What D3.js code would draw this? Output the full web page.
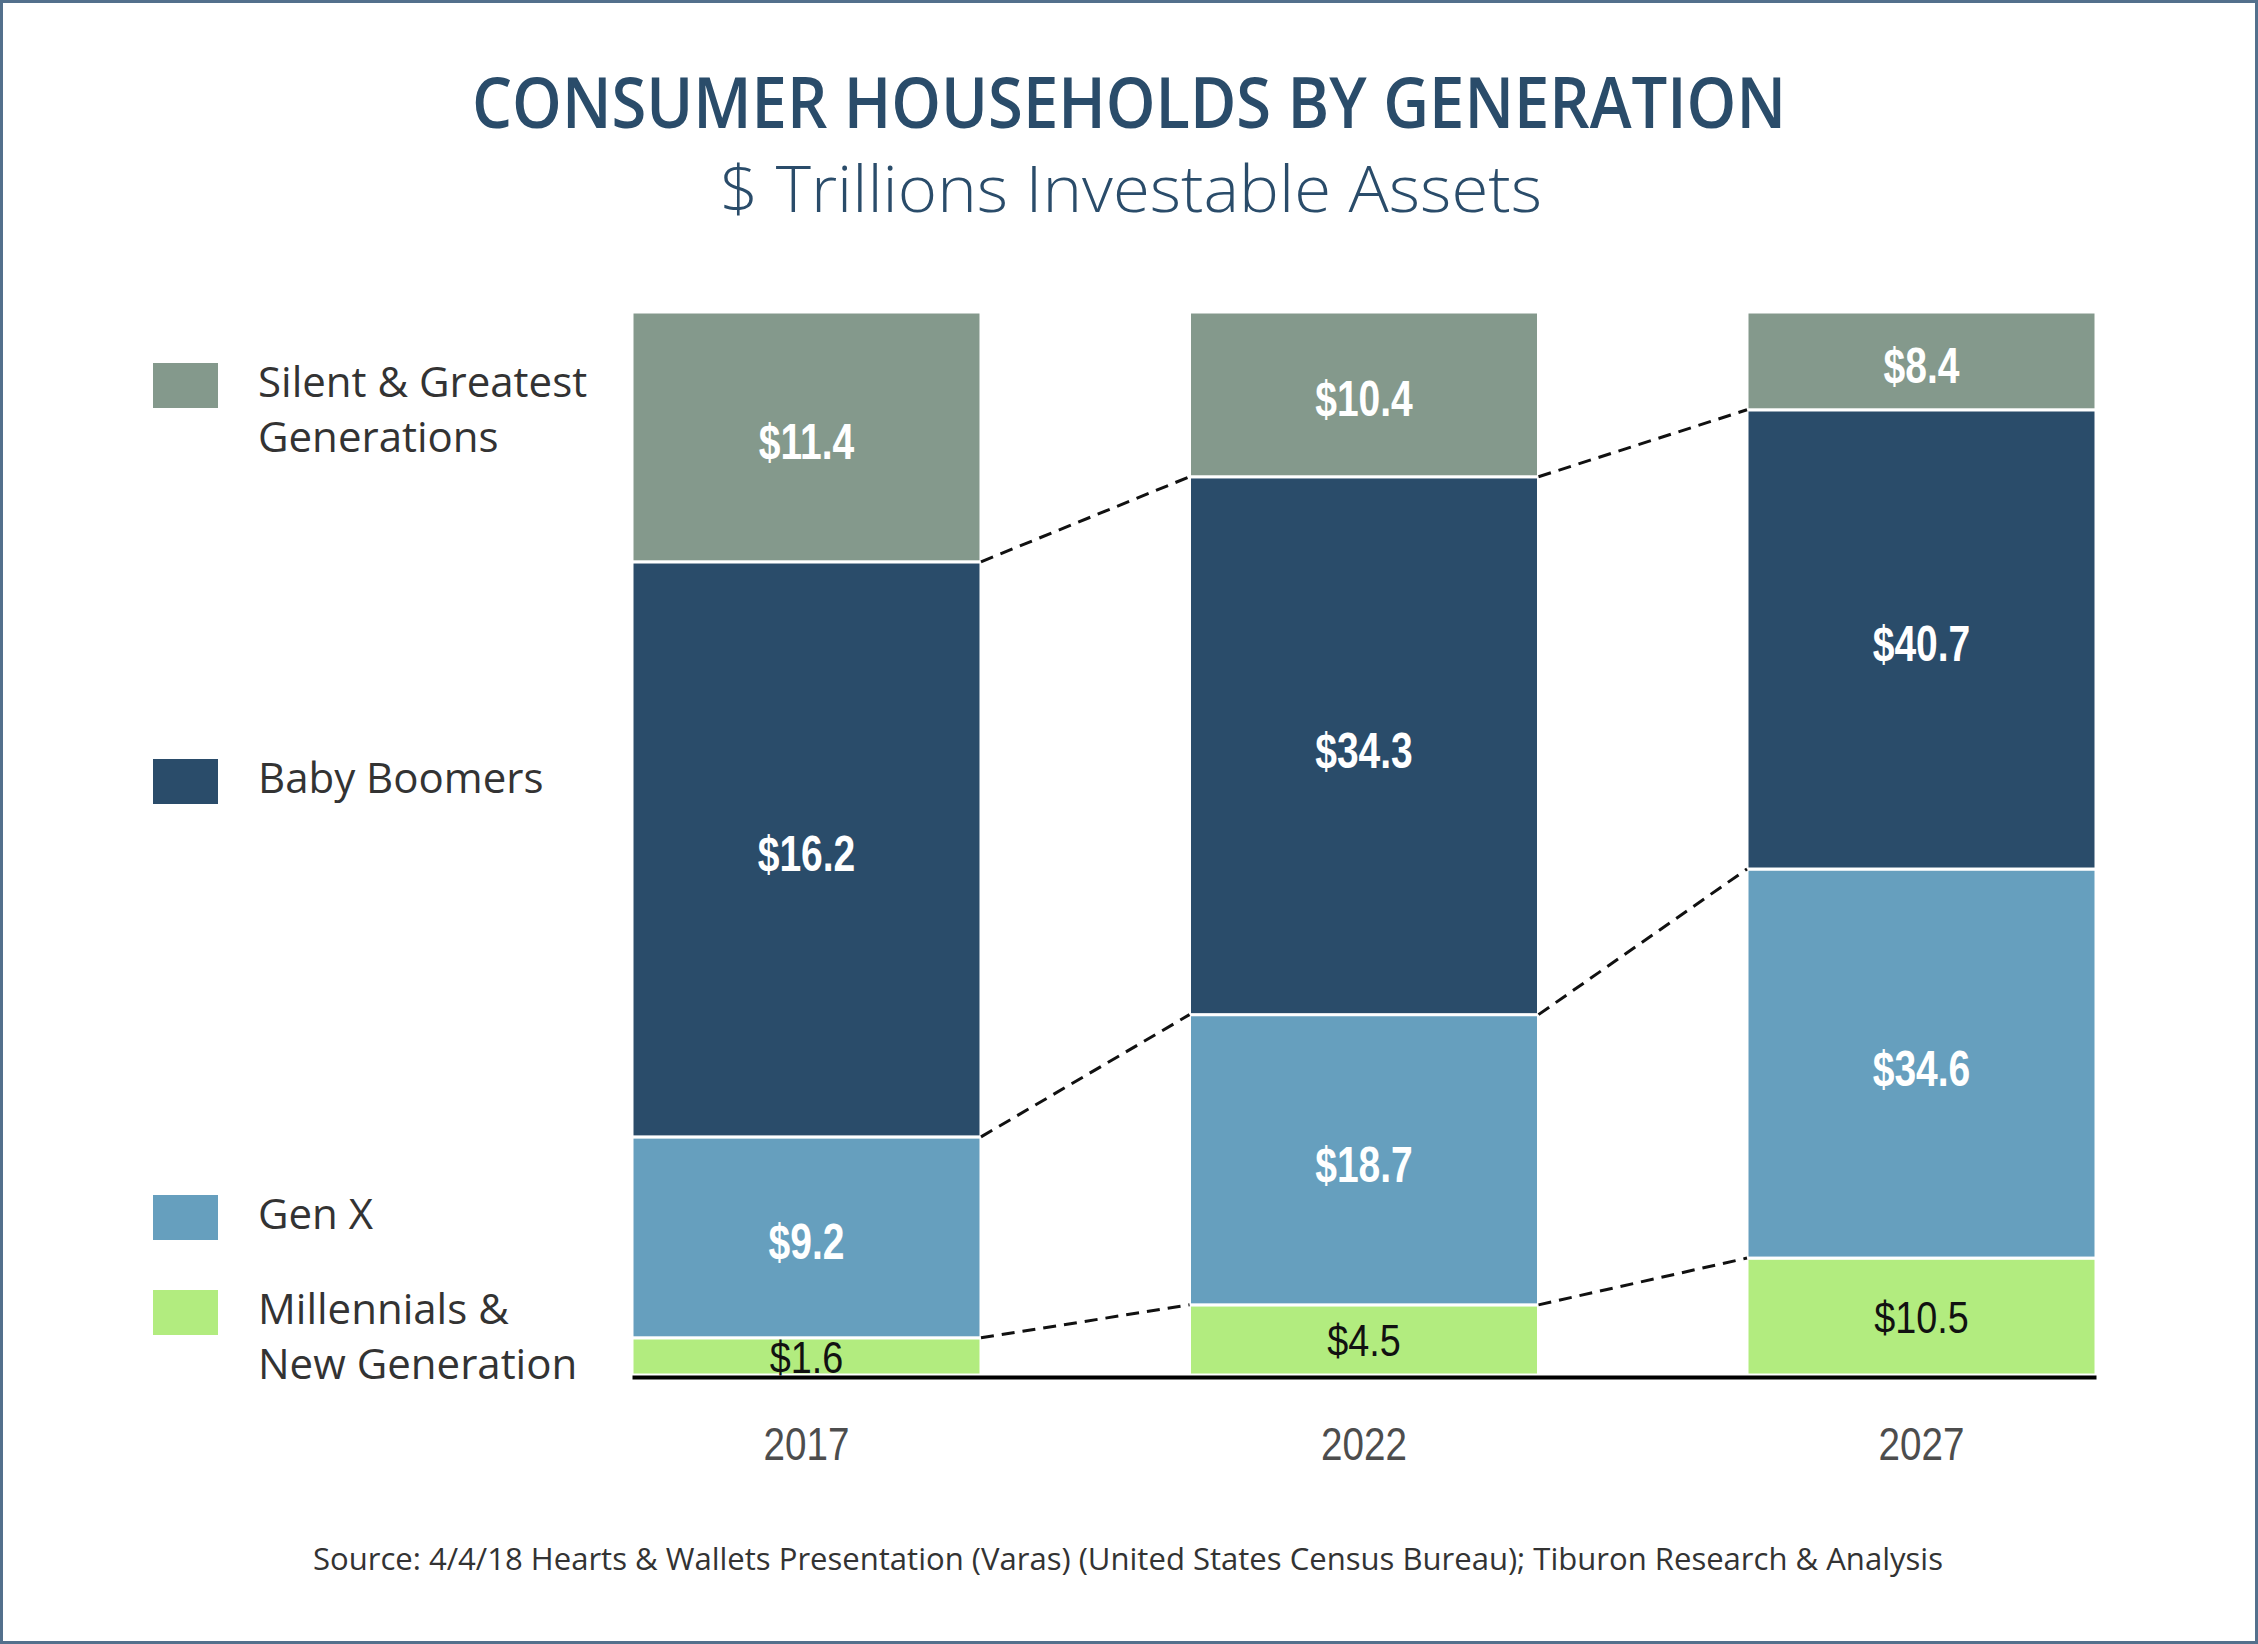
<!DOCTYPE html>
<html>
<head>
<meta charset="utf-8">
<script src="https://cdn.jsdelivr.net/npm/d3@7"></script>
<style>
  body { margin: 0; background: #fff; }
  svg { display: block; }
</style>
</head>
<body>
<div id="chart"></div>
<script>
// Años en el eje X
const years = ["2017", "2022", "2027"]

// Generaciones, de abajo hacia arriba en la pila
const keys = ["millennials", "genX", "boomers", "silent"]

// $ billones mostrados en cada segmento
const millennials = [1.6, 4.5, 10.5]
const genX = [9.2, 18.7, 34.6]
const boomers = [16.2, 34.3, 40.7]
const silent = [11.4, 10.4, 8.4]

// Parte de la altura de la barra que ocupa cada segmento en la imagen (%)
const shareMillennials = [3.5, 6.6, 11.0]
const shareGenX = [18.9, 27.3, 36.6]
const shareBoomers = [54.1, 50.6, 43.2]
const shareSilent = [23.5, 15.5, 9.2]

const title = "CONSUMER HOUSEHOLDS BY GENERATION"
const subtitle = "$ Trillions Investable Assets"
const source = "Source: 4/4/18 Hearts & Wallets Presentation (Varas) (United States Census Bureau); Tiburon Research & Analysis"

const width = 2258
const height = 1644

const colors = {
  millennials: "#b2ec7f",
  genX: "#669fbe",
  boomers: "#2a4c6a",
  silent: "#84998c"
}
const labelColors = { millennials: "#111", genX: "#fff", boomers: "#fff", silent: "#fff" }

const values = { millennials, genX, boomers, silent }

// Tabla para d3.stack
const rows = years.map((year, i) => ({
  year,
  millennials: shareMillennials[i],
  genX: shareGenX[i],
  boomers: shareBoomers[i],
  silent: shareSilent[i]
}))

const series = d3.stack().keys(keys).offset(d3.stackOffsetExpand)(rows)

const svg = d3.select("#chart")
  .append("svg")
  .attr("width", width)
  .attr("height", height)
  .attr("viewBox", [0, 0, width, height])

// Marco
svg.append("rect")
  .attr("x", 1.5).attr("y", 1.5)
  .attr("width", width - 3).attr("height", height - 3)
  .attr("fill", "#fff")
  .attr("stroke", "#53708c")
  .attr("stroke-width", 3)

// Títulos
svg.append("text")
  .attr("x", 1129).attr("y", 128)
  .attr("text-anchor", "middle")
  .attr("fill", "#2a4c6a")
  .attr("font-family", "'Open Sans', sans-serif")
  .attr("font-weight", 600)
  .attr("font-size", 70)
  .attr("textLength", 1314)
  .attr("lengthAdjust", "spacingAndGlyphs")
  .text(title)

svg.append("text")
  .attr("x", 1131).attr("y", 212)
  .attr("text-anchor", "middle")
  .attr("fill", "#2a4c6a")
  .attr("font-family", "'Open Sans', sans-serif")
  .attr("font-weight", 300)
  .attr("font-size", 64)
  .attr("textLength", 822)
  .attr("lengthAdjust", "spacingAndGlyphs")
  .text(subtitle)

// Escalas
const x = d3.scaleBand()
  .domain(years)
  .range([632, 2096])
  .paddingInner(0.374)
  .paddingOuter(0)

const y = d3.scaleLinear()
  .domain([0, 1])
  .range([1375, 312])

// Barras apiladas
const layer = svg.append("g")
  .selectAll("g")
  .data(series)
  .join("g")
  .attr("fill", d => colors[d.key])

layer.selectAll("rect")
  .data(d => d)
  .join("rect")
  .attr("x", d => x(d.data.year))
  .attr("y", d => y(d[1]))
  .attr("width", x.bandwidth())
  .attr("height", d => y(d[0]) - y(d[1]))
  .attr("stroke", "#fff")
  .attr("stroke-width", 3)

// Etiquetas de valor (fuente estrecha simulada con escala horizontal)
const narrowFont = "'Liberation Sans', Arial, sans-serif"

series.forEach(s => {
  const isMill = s.key === "millennials"
  svg.append("g")
    .selectAll("text")
    .data(s)
    .join("text")
    .attr("transform", d => {
      const cx = x(d.data.year) + x.bandwidth() / 2
      const cy = (y(d[0]) + y(d[1])) / 2 + (isMill ? 0 : 4)
      return `translate(${cx},${cy}) scale(${isMill ? 0.84 : 0.78},1)`
    })
    .attr("dy", "0.36em")
    .attr("text-anchor", "middle")
    .attr("fill", labelColors[s.key])
    .attr("font-family", narrowFont)
    .attr("font-weight", isMill ? 400 : 700)
    .attr("font-size", isMill ? 45 : 50)
    .text((d, i) => `$${values[s.key][i].toFixed(1)}`)
})

// Líneas punteadas entre barras
const connectors = []
series.slice(0, 3).forEach(s => {
  for (let i = 0; i < years.length - 1; i++) {
    connectors.push({
      x1: x(years[i]) + x.bandwidth(), y1: y(s[i][1]),
      x2: x(years[i + 1]), y2: y(s[i + 1][1])
    })
  }
})

svg.append("g")
  .selectAll("line")
  .data(connectors)
  .join("line")
  .attr("x1", d => d.x1).attr("y1", d => d.y1)
  .attr("x2", d => d.x2).attr("y2", d => d.y2)
  .attr("stroke", "#111")
  .attr("stroke-width", 3)
  .attr("stroke-dasharray", "13,8")

// Eje X
const xAxis = svg.append("g")
  .attr("transform", "translate(0,1377)")
  .call(d3.axisBottom(x).tickSize(0).tickSizeOuter(0).tickPadding(50))

xAxis.select(".domain")
  .attr("stroke", "#000")
  .attr("stroke-width", 4)

xAxis.selectAll("text")
  .attr("fill", "#4d4d4d")
  .attr("font-family", narrowFont)
  .attr("font-size", 46)
  .attr("transform", "scale(0.84,1)")

// Leyenda
const legend = [
  { key: "silent", lines: ["Silent & Greatest", "Generations"], top: 363 },
  { key: "boomers", lines: ["Baby Boomers"], top: 759 },
  { key: "genX", lines: ["Gen X"], top: 1195 },
  { key: "millennials", lines: ["Millennials &", "New Generation"], top: 1290 }
]

const lg = svg.append("g")
  .selectAll("g")
  .data(legend)
  .join("g")
  .attr("transform", d => `translate(153,${d.top})`)

lg.append("rect")
  .attr("width", 65)
  .attr("height", 45)
  .attr("fill", d => colors[d.key])

lg.append("text")
  .attr("fill", "#333")
  .attr("font-family", "'Open Sans', sans-serif")
  .attr("font-size", 42)
  .selectAll("tspan")
  .data(d => d.lines)
  .join("tspan")
  .attr("x", 105)
  .attr("y", (d, i) => 34 + i * 55)
  .text(d => d)

// Fuente
svg.append("text")
  .attr("x", 313).attr("y", 1570)
  .attr("fill", "#333")
  .attr("font-family", "'Open Sans', sans-serif")
  .attr("font-size", 31)
  .attr("textLength", 1630)
  .attr("lengthAdjust", "spacingAndGlyphs")
  .text(source)
</script>
</body>
</html>
